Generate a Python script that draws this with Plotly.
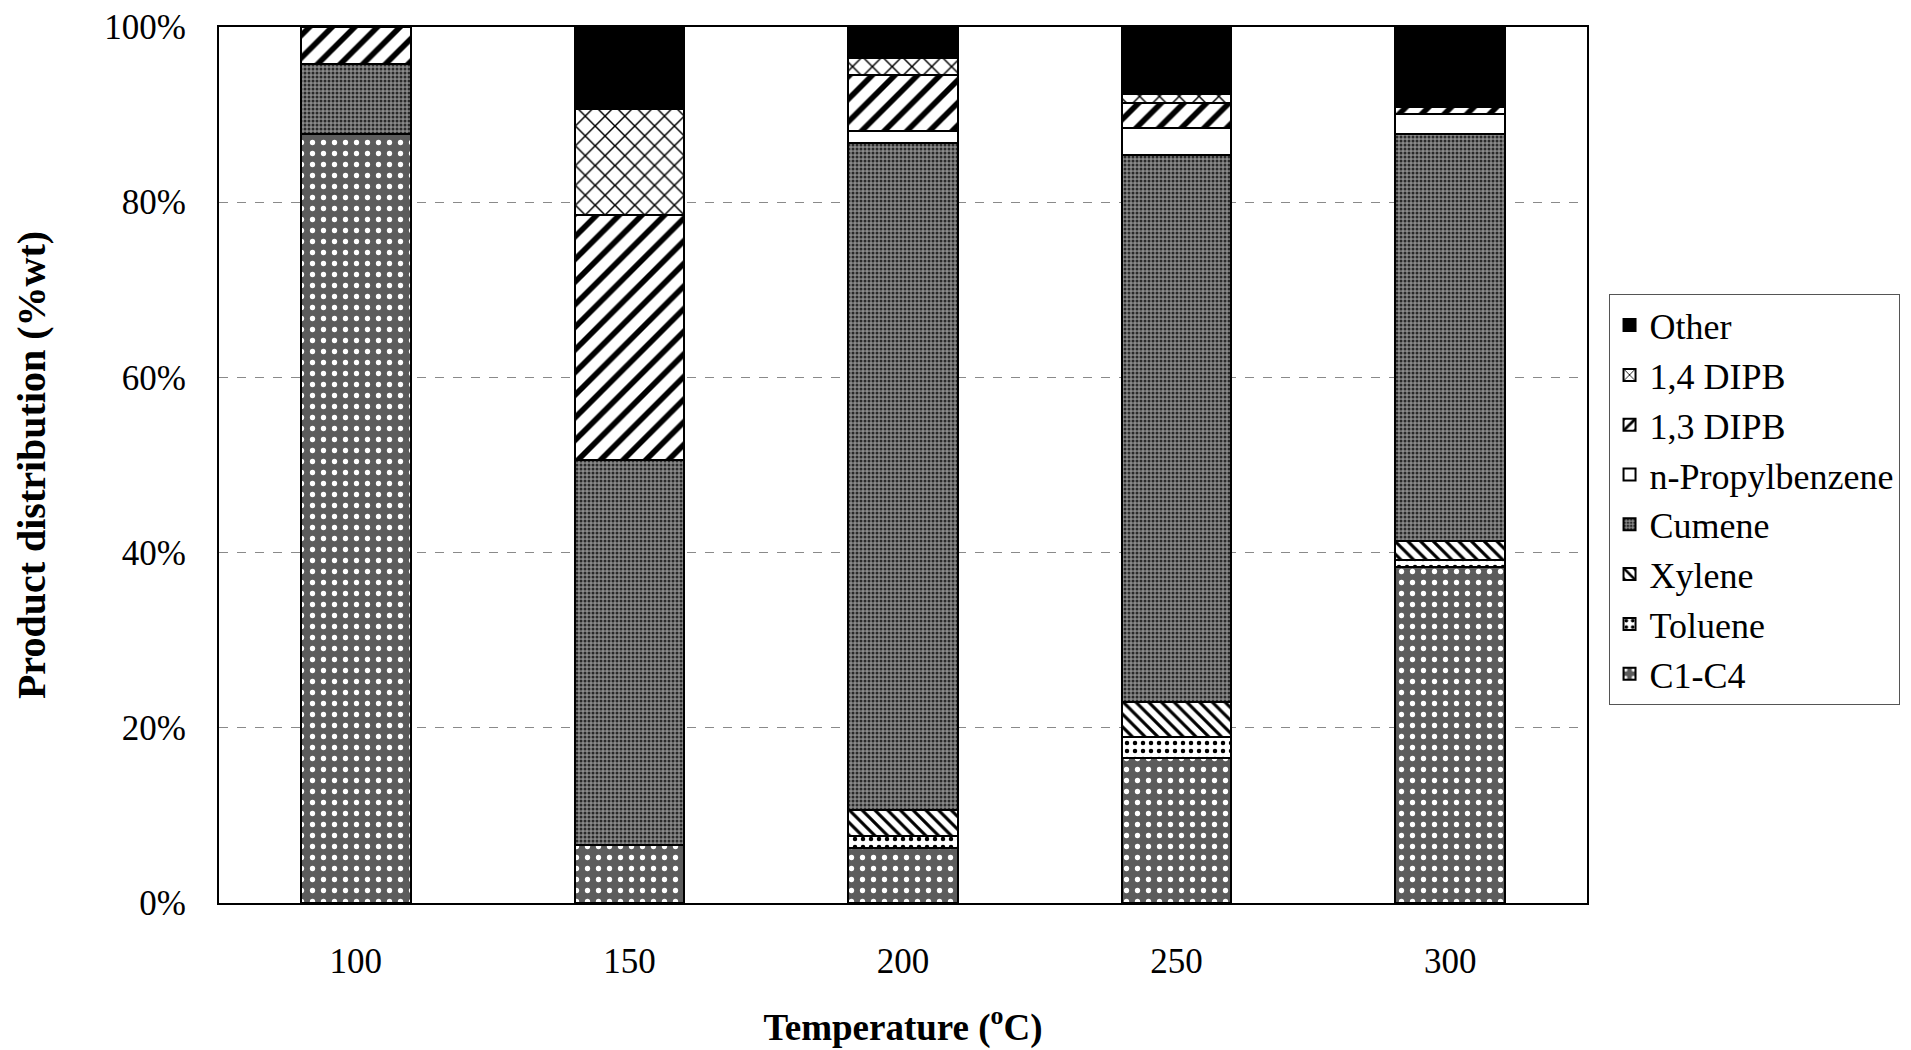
import plotly.graph_objects as go

# Reaction temperature (°C) for each run
temperatures = ["100", "150", "200", "250", "300"]

# Product distribution (%wt) per product, one value per temperature
c1_c4 = [87.8, 6.6, 6.3, 16.5, 38.3]
toluene = [0.0, 0.0, 1.3, 2.5, 0.9]
xylene = [0.0, 0.0, 3.0, 3.9, 2.1]
cumene = [8.0, 44.0, 76.2, 62.5, 46.5]
n_propylbenzene = [0.0, 0.0, 1.3, 3.1, 2.3]
dipb_13 = [4.2, 27.9, 6.4, 2.8, 0.8]
dipb_14 = [0.0, 12.1, 2.0, 1.0, 0.0]
other = [0.0, 9.4, 3.5, 7.7, 9.1]

y_ticks = [0, 20, 40, 60, 80, 100]
y_tick_labels = ["0%", "20%", "40%", "60%", "80%", "100%"]

FONT = "Liberation Serif"

# name, values, pattern shape, foreground, background, pattern size, solidity
series = [
    ("C1-C4", c1_c4, ".", "white", "#5c5c5c", 11, 0.18),
    ("Toluene", toluene, ".", "black", "white", 8, 0.25),
    ("Xylene", xylene, "\\", "black", "white", 9, 0.35),
    ("Cumene", cumene, ".", "#2a2a2a", "#8a8a8a", 4, 0.45),
    ("n-Propylbenzene", n_propylbenzene, "", "black", "white", 8, 0.3),
    ("1,3 DIPB", dipb_13, "/", "black", "white", 16, 0.35),
    ("1,4 DIPB", dipb_14, "x", "black", "white", 14, 0.2),
    ("Other", other, "", "black", "black", 8, 0.3),
]

fig = go.Figure()
for i, (name, vals, shape, fg, bg, size, solid) in enumerate(series):
    fig.add_trace(go.Bar(
        x=temperatures,
        y=[v if v > 0 else None for v in vals],
        name=name,
        legendgroup=f"g{i}",
        marker=dict(
            color=bg,
            line=dict(color="black", width=2),
            pattern=dict(shape=shape, fgcolor=fg, bgcolor=bg,
                         size=size, solidity=solid, fillmode="replace"),
        ),
    ))

fig.update_layout(
    barmode="stack",
    bargap=0.6,
    width=1911,
    height=1050,
    paper_bgcolor="white",
    plot_bgcolor="white",
    margin=dict(l=219, r=323, t=27, b=147),
    font=dict(family=FONT, color="black", size=36),
    legend=dict(
        x=1.015, xanchor="left",
        y=0.695, yanchor="top",
        traceorder="reversed",
        tracegroupgap=16,
        bordercolor="#555555",
        borderwidth=1,
        font=dict(family=FONT, size=36),
        itemwidth=30,
    ),
    xaxis=dict(
        automargin=False,
        showline=True, linecolor="black", linewidth=2, mirror=True,
        ticks="", ticklabelstandoff=26,
        tickfont=dict(size=35),
        title=dict(text="<b>Temperature (<sup>o</sup>C)</b>",
                   font=dict(size=37), standoff=34),
    ),
    yaxis=dict(
        automargin=False,
        range=[0, 100],
        tickmode="array",
        tickvals=y_ticks,
        ticktext=y_tick_labels,
        showline=True, linecolor="black", linewidth=2, mirror=True,
        ticks="", ticklabelstandoff=24,
        tickfont=dict(size=35),
        showgrid=True, gridcolor="#8a8a8a", gridwidth=1, griddash="dash",
        zeroline=False,
        title=dict(text="<b>Product distribution (%wt)</b>",
                   font=dict(size=40), standoff=46),
    ),
)

fig.write_html("out.html")
